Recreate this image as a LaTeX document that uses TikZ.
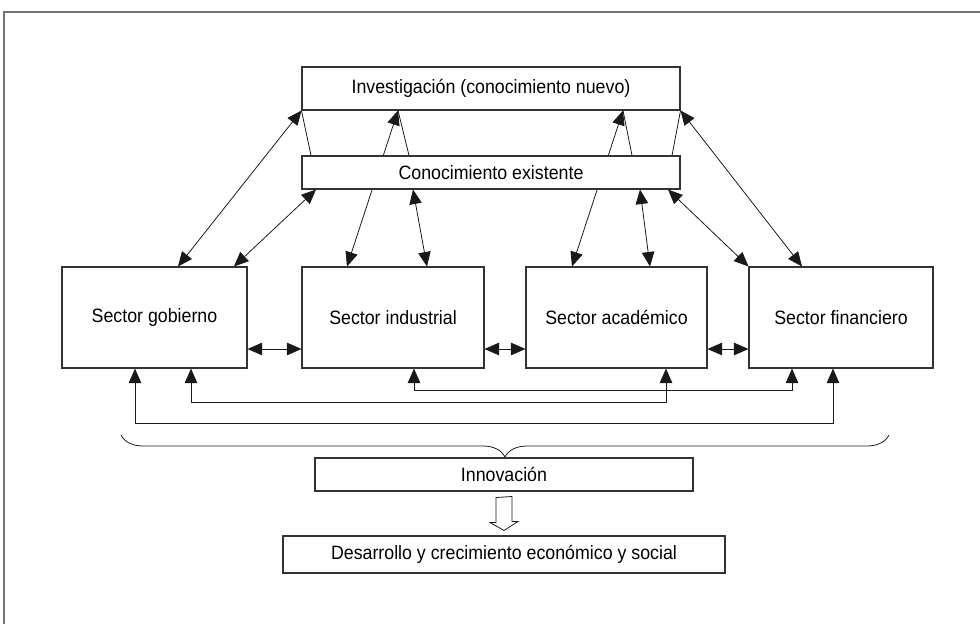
\documentclass[tikz,border=0pt]{standalone}
\usepackage{fontspec}
\setmainfont{Liberation Sans}[FakeStretch=0.92]
\usetikzlibrary{arrows.meta,decorations.pathreplacing,calc}

\begin{document}
\begin{tikzpicture}[x=0.2mm,y=-0.2mm]
  \tikzstyle{every node}+=[inner sep=0pt, font=\fontsize{11}{13}\selectfont]
  \tikzstyle{box}=[draw=black!80, line width=0.6pt, fill=white]
  \tikzstyle{sector}=[box, minimum height=20.2mm]
  \tikzstyle{link}=[{Triangle[length=2.9mm,width=2.5mm]}-{Triangle[length=2.9mm,width=2.5mm]}, line width=0.45pt, black!90]
  \tikzstyle{leg}=[line width=0.45pt, black!90]
  \tikzstyle{frame}=[line width=0.9pt, black!55]
  \useasboundingbox (0,0) rectangle (980,624);
  \draw[frame] (4,624) -- (4,12) -- (980,12);

  \node[box, minimum width=75.6mm, minimum height=8.6mm] (inv) at (491,88.5) {Investigación (conocimiento nuevo)};
  \node[sector, minimum width=37mm] (gob) at (154.5,317.5) {Sector gobierno};
  \node[sector, minimum width=36.4mm] (ind) at (393,317.5) {Sector industrial};
  \node[sector, minimum width=36.2mm] (aca) at (616.5,317.5) {Sector académico};
  \node[sector, minimum width=36.8mm] (fin) at (841,317.5) {Sector financiero};

  % these two run behind the Conocimiento box
  \coordinate (apexB) at (398,0 |- inv.south);
  \coordinate (apexC) at (623,0 |- inv.south);
  \draw[link] (347,0 |- ind.north) -- (apexB);
  \draw[link] (572,0 |- aca.north) -- (apexC);

  \node[box, minimum width=75.6mm, minimum height=6.6mm] (con) at (491,172.5) {Conocimiento existente};

  \draw[leg] (311,0 |- con.north) -- (inv.south west);
  \draw[leg] (409,0 |- con.north) -- (apexB);
  \draw[leg] (632,0 |- con.north) -- (apexC);
  \draw[leg] (672,0 |- con.north) -- (inv.south east);

  \draw[link] (178,0 |- gob.north) -- (inv.south west);
  \draw[link] (234,0 |- gob.north) -- (316,0 |- con.south);
  \draw[link] (413,0 |- con.south) -- (427,0 |- ind.north);
  \draw[link] (640,0 |- con.south) -- (650,0 |- aca.north);
  \draw[link] (668,0 |- con.south) -- (fin.north west);
  \draw[link] (inv.south east) -- (802,0 |- fin.north);

  % between the sectors
  \draw[link] (gob.east |- 0,349) -- (ind.west |- 0,349);
  \draw[link] (ind.east |- 0,349) -- (aca.west |- 0,349);
  \draw[link] (aca.east |- 0,349) -- (fin.west |- 0,349);

  % feedback lines under the sectors
  \draw[link] (135,0 |- gob.south) -- (135,423) -| (833,0 |- fin.south);
  \draw[link] (191,0 |- gob.south) -- (191,402) -| (666,0 |- aca.south);
  \draw[link] (414,0 |- ind.south) -- (414,390) -| (792,0 |- fin.south);

  \coordinate (braceL) at (121,435);
  \coordinate (braceR) at (889,435);
  \draw[leg, decorate, decoration={brace, mirror, amplitude=4.4mm}] (braceL) -- (braceR);

  \node[box, minimum width=75.6mm, minimum height=6.6mm] (inn) at (504,474.5) {Innovación};
  \node[box, minimum width=88.4mm, minimum height=7.4mm] (des) at (504,554.5) {Desarrollo y crecimiento económico y social};

  \draw[leg] ($(inn.south)+(-8,6)$) -- ++(0,25) -- ++(-6,0) -- ($(des.north)+(0,-5)$)
    -- ++(14,-9) -- ++(-6,0) -- ++(0,-25) -- cycle;
\end{tikzpicture}
\end{document}
